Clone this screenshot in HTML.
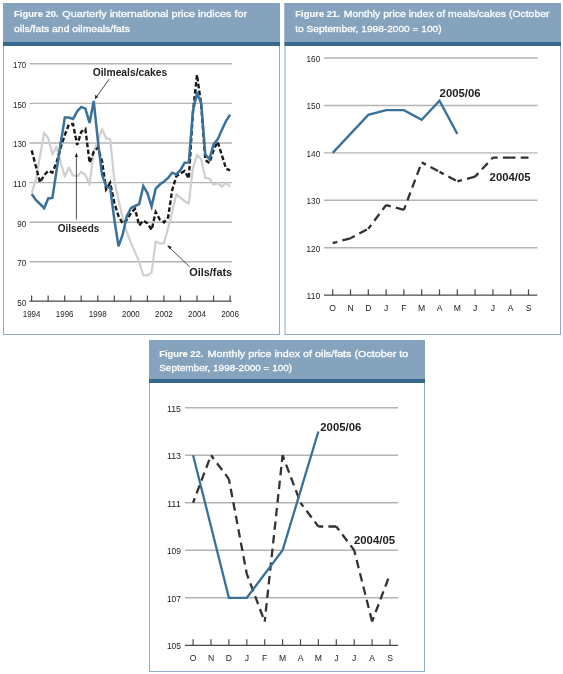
<!DOCTYPE html>
<html><head><meta charset="utf-8"><style>
html,body{margin:0;padding:0;background:#fff;}
body{width:563px;height:674px;overflow:hidden;}
svg{display:block;font-family:'Liberation Sans', sans-serif;will-change:transform;}
</style></head><body>
<svg width="563" height="674" viewBox="0 0 563 674">
<rect x="3.5" y="3.5" width="276" height="331" fill="none" stroke="#8eaacb" stroke-width="1"/>
<rect x="3" y="3" width="277" height="39" fill="#85a3bd"/>
<rect x="3" y="42" width="277" height="4" fill="#356a8c"/>
<text x="14.1" y="17.4" textLength="44.5" lengthAdjust="spacingAndGlyphs" font-size="9.6" font-weight="bold" fill="#fff" stroke="#fff" stroke-width="0.12">Figure 20.</text>
<text x="62.3" y="17.4" textLength="184.8" lengthAdjust="spacingAndGlyphs" font-size="9.3" font-weight="normal" fill="#fff" stroke="#fff" stroke-width="0.28">Quarterly international price indices for</text>
<text x="14.1" y="31.7" textLength="115.8" lengthAdjust="spacingAndGlyphs" font-size="9.3" font-weight="normal" fill="#fff" stroke="#fff" stroke-width="0.28">oils/fats and oilmeals/fats</text>
<line x1="29.5" y1="63.80" x2="232" y2="63.80" stroke="#b4b4b4" stroke-width="1.4"/>
<line x1="29.5" y1="103.40" x2="232" y2="103.40" stroke="#b4b4b4" stroke-width="1.4"/>
<line x1="29.5" y1="143.00" x2="232" y2="143.00" stroke="#b4b4b4" stroke-width="1.4"/>
<line x1="29.5" y1="182.60" x2="232" y2="182.60" stroke="#b4b4b4" stroke-width="1.4"/>
<line x1="29.5" y1="222.20" x2="232" y2="222.20" stroke="#b4b4b4" stroke-width="1.4"/>
<line x1="29.5" y1="261.80" x2="232" y2="261.80" stroke="#b4b4b4" stroke-width="1.4"/>
<line x1="29.5" y1="301.2" x2="231.5" y2="301.2" stroke="#4a4a4a" stroke-width="1.3"/>
<line x1="31.60" y1="295.5" x2="31.60" y2="301.5" stroke="#4a4a4a" stroke-width="1.2"/>
<line x1="48.14" y1="295.5" x2="48.14" y2="301.5" stroke="#4a4a4a" stroke-width="1.2"/>
<line x1="64.68" y1="295.5" x2="64.68" y2="301.5" stroke="#4a4a4a" stroke-width="1.2"/>
<line x1="81.22" y1="295.5" x2="81.22" y2="301.5" stroke="#4a4a4a" stroke-width="1.2"/>
<line x1="97.76" y1="295.5" x2="97.76" y2="301.5" stroke="#4a4a4a" stroke-width="1.2"/>
<line x1="114.30" y1="295.5" x2="114.30" y2="301.5" stroke="#4a4a4a" stroke-width="1.2"/>
<line x1="130.84" y1="295.5" x2="130.84" y2="301.5" stroke="#4a4a4a" stroke-width="1.2"/>
<line x1="147.38" y1="295.5" x2="147.38" y2="301.5" stroke="#4a4a4a" stroke-width="1.2"/>
<line x1="163.92" y1="295.5" x2="163.92" y2="301.5" stroke="#4a4a4a" stroke-width="1.2"/>
<line x1="180.46" y1="295.5" x2="180.46" y2="301.5" stroke="#4a4a4a" stroke-width="1.2"/>
<line x1="197.00" y1="295.5" x2="197.00" y2="301.5" stroke="#4a4a4a" stroke-width="1.2"/>
<line x1="213.54" y1="295.5" x2="213.54" y2="301.5" stroke="#4a4a4a" stroke-width="1.2"/>
<line x1="230.08" y1="295.5" x2="230.08" y2="301.5" stroke="#4a4a4a" stroke-width="1.2"/>
<text x="26.3" y="68.2" font-size="9.4" text-anchor="end" font-weight="normal" fill="#222222" textLength="13.3" lengthAdjust="spacingAndGlyphs">170</text>
<text x="26.3" y="107.80000000000001" font-size="9.4" text-anchor="end" font-weight="normal" fill="#222222" textLength="13.3" lengthAdjust="spacingAndGlyphs">150</text>
<text x="26.3" y="147.4" font-size="9.4" text-anchor="end" font-weight="normal" fill="#222222" textLength="13.3" lengthAdjust="spacingAndGlyphs">130</text>
<text x="26.3" y="187.0" font-size="9.4" text-anchor="end" font-weight="normal" fill="#222222" textLength="13.3" lengthAdjust="spacingAndGlyphs">110</text>
<text x="26.3" y="226.6" font-size="9.4" text-anchor="end" font-weight="normal" fill="#222222" textLength="9.0" lengthAdjust="spacingAndGlyphs">90</text>
<text x="26.3" y="266.2" font-size="9.4" text-anchor="end" font-weight="normal" fill="#222222" textLength="9.0" lengthAdjust="spacingAndGlyphs">70</text>
<text x="26.3" y="305.79999999999995" font-size="9.4" text-anchor="end" font-weight="normal" fill="#222222" textLength="9.0" lengthAdjust="spacingAndGlyphs">50</text>
<text x="31.6" y="316.6" font-size="8.9" text-anchor="middle" font-weight="normal" fill="#222222" textLength="17.8" lengthAdjust="spacingAndGlyphs">1994</text>
<text x="64.68" y="316.6" font-size="8.9" text-anchor="middle" font-weight="normal" fill="#222222" textLength="17.8" lengthAdjust="spacingAndGlyphs">1996</text>
<text x="97.75999999999999" y="316.6" font-size="8.9" text-anchor="middle" font-weight="normal" fill="#222222" textLength="17.8" lengthAdjust="spacingAndGlyphs">1998</text>
<text x="130.84" y="316.6" font-size="8.9" text-anchor="middle" font-weight="normal" fill="#222222" textLength="17.8" lengthAdjust="spacingAndGlyphs">2000</text>
<text x="163.92" y="316.6" font-size="8.9" text-anchor="middle" font-weight="normal" fill="#222222" textLength="17.8" lengthAdjust="spacingAndGlyphs">2002</text>
<text x="196.99999999999997" y="316.6" font-size="8.9" text-anchor="middle" font-weight="normal" fill="#222222" textLength="17.8" lengthAdjust="spacingAndGlyphs">2004</text>
<text x="230.07999999999998" y="316.6" font-size="8.9" text-anchor="middle" font-weight="normal" fill="#222222" textLength="17.8" lengthAdjust="spacingAndGlyphs">2006</text>
<polyline points="31.7,193.0 35.8,180.0 40.0,156.0 44.1,132.6 48.2,138.0 52.4,154.5 56.5,146.8 60.6,162.0 64.8,176.5 68.9,167.5 73.0,175.5 77.2,176.2 81.3,172.0 85.4,174.9 89.6,184.6 93.7,152.0 97.8,141.0 102.0,129.0 106.1,138.3 110.2,139.0 114.4,180.7 118.5,200.0 122.6,217.5 126.8,232.0 130.9,243.0 135.0,252.0 139.2,262.0 143.3,275.3 147.4,275.3 151.6,272.6 155.7,241.5 159.8,243.3 164.0,243.3 168.1,228.0 172.2,212.0 176.4,194.0 180.5,198.0 184.6,201.0 188.8,203.7 192.9,168.0 197.0,154.9 201.2,159.2 205.3,177.9 209.4,178.5 213.6,184.7 217.7,182.9 221.8,186.6 226.0,182.9 230.1,186.6" fill="none" stroke="#cfcfcf" stroke-width="2.2" stroke-linejoin="round" stroke-miterlimit="12"/>
<polyline points="31.7,150.4 35.8,166.0 40.0,182.4 44.1,175.3 48.2,170.8 52.4,172.6 56.5,162.8 60.6,148.0 64.8,135.0 68.9,124.5 73.0,124.0 77.2,145.0 81.3,131.7 85.4,129.0 89.6,162.8 93.7,152.0 97.8,147.7 102.0,161.0 106.1,189.4 110.2,182.7 114.4,203.0 118.5,216.0 122.6,223.5 126.8,220.0 130.9,213.0 135.0,208.8 139.2,225.5 143.3,220.6 147.4,223.3 151.6,229.9 155.7,212.0 159.8,219.5 164.0,222.4 168.1,217.4 172.2,190.0 176.4,176.1 180.5,173.5 184.6,171.0 188.8,178.5 192.9,113.1 197.0,74.8 201.2,105.0 205.3,159.9 209.4,163.0 213.6,150.0 217.7,141.8 221.8,155.0 226.0,168.6 230.1,170.4" fill="none" stroke="#1a1a1a" stroke-width="2.4" stroke-linejoin="miter" stroke-miterlimit="4" stroke-dasharray="4.6 2.4"/>
<polyline points="31.7,194.0 35.8,200.0 40.0,204.0 44.1,208.2 48.2,198.4 52.4,197.9 56.5,171.0 60.6,144.0 64.8,117.6 68.9,117.6 73.0,119.0 77.2,111.3 81.3,106.9 85.4,108.6 89.6,122.9 93.7,101.0 97.8,139.7 102.0,174.7 106.1,186.1 110.2,188.1 114.4,220.0 118.5,246.2 122.6,234.9 126.8,216.1 130.9,208.1 135.0,206.0 139.2,204.1 143.3,186.1 147.4,193.1 151.6,206.4 155.7,188.6 159.8,184.5 164.0,181.5 168.1,177.9 172.2,172.7 176.4,174.4 180.5,169.9 184.6,162.8 188.8,162.6 192.9,111.3 197.0,93.5 201.2,103.0 205.3,154.3 209.4,159.2 213.6,144.3 217.7,139.3 221.8,130.0 226.0,121.0 230.1,114.8" fill="none" stroke="#3a719a" stroke-width="2.5" stroke-linejoin="miter" stroke-miterlimit="4"/>
<text x="92.7" y="76.0" font-size="10" text-anchor="start" font-weight="bold" fill="#222222" textLength="74.6" lengthAdjust="spacingAndGlyphs">Oilmeals/cakes</text>
<line x1="109.3" y1="79" x2="96.5" y2="96.8" stroke="#222222" stroke-width="0.8"/>
<polygon points="94.9,99.3 95.2,94.8 98.2,96.9" fill="#222222"/>
<text x="57.7" y="232.4" font-size="10" text-anchor="start" font-weight="bold" fill="#222222" textLength="41.6" lengthAdjust="spacingAndGlyphs">Oilseeds</text>
<line x1="76.4" y1="156" x2="76.4" y2="219.5" stroke="#222222" stroke-width="0.8"/>
<polygon points="76.4,152.5 74.8,157 78,157" fill="#222222"/>
<text x="189.2" y="276.4" font-size="10" text-anchor="start" font-weight="bold" fill="#222222" textLength="43" lengthAdjust="spacingAndGlyphs">Oils/fats</text>
<line x1="169.5" y1="247.5" x2="189.6" y2="266.8" stroke="#222222" stroke-width="0.8"/>
<polygon points="167.2,245.3 171.8,246.8 169.6,249.2" fill="#222222"/>
<rect x="285.0" y="3.5" width="275.5" height="331" fill="none" stroke="#8eaacb" stroke-width="1"/>
<rect x="284.5" y="3" width="276.5" height="39" fill="#85a3bd"/>
<rect x="284.5" y="42" width="276.5" height="4" fill="#356a8c"/>
<text x="295.3" y="17.4" textLength="44.6" lengthAdjust="spacingAndGlyphs" font-size="9.6" font-weight="bold" fill="#fff" stroke="#fff" stroke-width="0.12">Figure 21.</text>
<text x="343.8" y="17.4" textLength="205.7" lengthAdjust="spacingAndGlyphs" font-size="9.3" font-weight="normal" fill="#fff" stroke="#fff" stroke-width="0.28">Monthly price index of meals/cakes (October</text>
<text x="295.3" y="31.7" textLength="146.3" lengthAdjust="spacingAndGlyphs" font-size="9.3" font-weight="normal" fill="#fff" stroke="#fff" stroke-width="0.28">to September, 1998-2000 = 100)</text>
<line x1="324" y1="58.00" x2="537.6" y2="58.00" stroke="#b4b4b4" stroke-width="1.4"/>
<line x1="324" y1="105.44" x2="537.6" y2="105.44" stroke="#b4b4b4" stroke-width="1.4"/>
<line x1="324" y1="152.88" x2="537.6" y2="152.88" stroke="#b4b4b4" stroke-width="1.4"/>
<line x1="324" y1="200.32" x2="537.6" y2="200.32" stroke="#b4b4b4" stroke-width="1.4"/>
<line x1="324" y1="247.76" x2="537.6" y2="247.76" stroke="#b4b4b4" stroke-width="1.4"/>
<line x1="324" y1="295.20" x2="537.3" y2="295.20" stroke="#4a4a4a" stroke-width="1.3"/>
<line x1="332.70" y1="289.3" x2="332.70" y2="295.50" stroke="#4a4a4a" stroke-width="1.2"/>
<line x1="350.50" y1="289.3" x2="350.50" y2="295.50" stroke="#4a4a4a" stroke-width="1.2"/>
<line x1="368.30" y1="289.3" x2="368.30" y2="295.50" stroke="#4a4a4a" stroke-width="1.2"/>
<line x1="386.10" y1="289.3" x2="386.10" y2="295.50" stroke="#4a4a4a" stroke-width="1.2"/>
<line x1="403.90" y1="289.3" x2="403.90" y2="295.50" stroke="#4a4a4a" stroke-width="1.2"/>
<line x1="421.70" y1="289.3" x2="421.70" y2="295.50" stroke="#4a4a4a" stroke-width="1.2"/>
<line x1="439.50" y1="289.3" x2="439.50" y2="295.50" stroke="#4a4a4a" stroke-width="1.2"/>
<line x1="457.30" y1="289.3" x2="457.30" y2="295.50" stroke="#4a4a4a" stroke-width="1.2"/>
<line x1="475.10" y1="289.3" x2="475.10" y2="295.50" stroke="#4a4a4a" stroke-width="1.2"/>
<line x1="492.90" y1="289.3" x2="492.90" y2="295.50" stroke="#4a4a4a" stroke-width="1.2"/>
<line x1="510.70" y1="289.3" x2="510.70" y2="295.50" stroke="#4a4a4a" stroke-width="1.2"/>
<line x1="528.50" y1="289.3" x2="528.50" y2="295.50" stroke="#4a4a4a" stroke-width="1.2"/>
<text x="320.2" y="61.9" font-size="9.4" text-anchor="end" font-weight="normal" fill="#222222" textLength="13.6" lengthAdjust="spacingAndGlyphs">160</text>
<text x="320.2" y="109.34" font-size="9.4" text-anchor="end" font-weight="normal" fill="#222222" textLength="13.6" lengthAdjust="spacingAndGlyphs">150</text>
<text x="320.2" y="156.78" font-size="9.4" text-anchor="end" font-weight="normal" fill="#222222" textLength="13.6" lengthAdjust="spacingAndGlyphs">140</text>
<text x="320.2" y="204.22" font-size="9.4" text-anchor="end" font-weight="normal" fill="#222222" textLength="13.6" lengthAdjust="spacingAndGlyphs">130</text>
<text x="320.2" y="251.66" font-size="9.4" text-anchor="end" font-weight="normal" fill="#222222" textLength="13.6" lengthAdjust="spacingAndGlyphs">120</text>
<text x="320.2" y="299.09999999999997" font-size="9.4" text-anchor="end" font-weight="normal" fill="#222222" textLength="13.6" lengthAdjust="spacingAndGlyphs">110</text>
<text x="332.7" y="311.1" font-size="8.6" text-anchor="middle" font-weight="normal" fill="#222222">O</text>
<text x="350.5" y="311.1" font-size="8.6" text-anchor="middle" font-weight="normal" fill="#222222">N</text>
<text x="368.3" y="311.1" font-size="8.6" text-anchor="middle" font-weight="normal" fill="#222222">D</text>
<text x="386.1" y="311.1" font-size="8.6" text-anchor="middle" font-weight="normal" fill="#222222">J</text>
<text x="403.9" y="311.1" font-size="8.6" text-anchor="middle" font-weight="normal" fill="#222222">F</text>
<text x="421.7" y="311.1" font-size="8.6" text-anchor="middle" font-weight="normal" fill="#222222">M</text>
<text x="439.5" y="311.1" font-size="8.6" text-anchor="middle" font-weight="normal" fill="#222222">A</text>
<text x="457.3" y="311.1" font-size="8.6" text-anchor="middle" font-weight="normal" fill="#222222">M</text>
<text x="475.1" y="311.1" font-size="8.6" text-anchor="middle" font-weight="normal" fill="#222222">J</text>
<text x="492.9" y="311.1" font-size="8.6" text-anchor="middle" font-weight="normal" fill="#222222">J</text>
<text x="510.7" y="311.1" font-size="8.6" text-anchor="middle" font-weight="normal" fill="#222222">A</text>
<text x="528.5" y="311.1" font-size="8.6" text-anchor="middle" font-weight="normal" fill="#222222">S</text>
<line x1="332.70" y1="243.02" x2="350.50" y2="238.27" stroke="#333333" stroke-width="2.3" stroke-dasharray="8.5 5.2" stroke-dashoffset="3.7"/>
<line x1="350.50" y1="238.27" x2="368.30" y2="228.78" stroke="#333333" stroke-width="2.3" stroke-dasharray="8.5 5.2" stroke-dashoffset="3.7"/>
<line x1="368.30" y1="228.78" x2="386.10" y2="205.06" stroke="#333333" stroke-width="2.3" stroke-dasharray="8.5 5.2" stroke-dashoffset="3.7"/>
<line x1="386.10" y1="205.06" x2="403.90" y2="209.81" stroke="#333333" stroke-width="2.3" stroke-dasharray="8.5 5.2" stroke-dashoffset="3.7"/>
<line x1="403.90" y1="209.81" x2="421.70" y2="162.37" stroke="#333333" stroke-width="2.3" stroke-dasharray="8.5 5.2" stroke-dashoffset="3.7"/>
<line x1="421.70" y1="162.37" x2="439.50" y2="171.86" stroke="#333333" stroke-width="2.3" stroke-dasharray="8.5 5.2" stroke-dashoffset="3.7"/>
<line x1="439.50" y1="171.86" x2="457.30" y2="181.34" stroke="#333333" stroke-width="2.3" stroke-dasharray="8.5 5.2" stroke-dashoffset="3.7"/>
<line x1="457.30" y1="181.34" x2="475.10" y2="176.60" stroke="#333333" stroke-width="2.3" stroke-dasharray="8.5 5.2" stroke-dashoffset="3.7"/>
<line x1="475.10" y1="176.60" x2="492.90" y2="157.62" stroke="#333333" stroke-width="2.3" stroke-dasharray="8.5 5.2" stroke-dashoffset="3.7"/>
<line x1="492.90" y1="157.62" x2="510.70" y2="157.62" stroke="#333333" stroke-width="2.3" stroke-dasharray="8.5 5.2" stroke-dashoffset="3.7"/>
<line x1="510.70" y1="157.62" x2="528.50" y2="157.62" stroke="#333333" stroke-width="2.3" stroke-dasharray="8.5 5.2" stroke-dashoffset="3.7"/>
<polyline points="332.7,152.9 350.5,133.9 368.3,114.9 386.1,110.2 403.9,110.2 421.7,119.7 439.5,100.7 457.3,133.9" fill="none" stroke="#3a719a" stroke-width="2.3" stroke-linejoin="miter" stroke-miterlimit="12"/>
<text x="439.6" y="96.8" font-size="11" text-anchor="start" font-weight="bold" fill="#222222" textLength="41" lengthAdjust="spacingAndGlyphs">2005/06</text>
<text x="489.6" y="181" font-size="11" text-anchor="start" font-weight="bold" fill="#222222" textLength="41" lengthAdjust="spacingAndGlyphs">2004/05</text>
<rect x="149.5" y="340.5" width="275" height="331" fill="none" stroke="#8eaacb" stroke-width="1"/>
<rect x="149" y="340" width="276" height="39" fill="#85a3bd"/>
<rect x="149" y="379" width="276" height="4" fill="#356a8c"/>
<text x="159.2" y="356.7" textLength="44.2" lengthAdjust="spacingAndGlyphs" font-size="9.6" font-weight="bold" fill="#fff" stroke="#fff" stroke-width="0.12">Figure 22.</text>
<text x="207.6" y="356.7" textLength="200.6" lengthAdjust="spacingAndGlyphs" font-size="9.3" font-weight="normal" fill="#fff" stroke="#fff" stroke-width="0.28">Monthly price index of oils/fats (October to</text>
<text x="159.2" y="370.6" textLength="133" lengthAdjust="spacingAndGlyphs" font-size="9.3" font-weight="normal" fill="#fff" stroke="#fff" stroke-width="0.28">September, 1998-2000 = 100)</text>
<line x1="185" y1="407.70" x2="398" y2="407.70" stroke="#b4b4b4" stroke-width="1.4"/>
<line x1="185" y1="455.22" x2="398" y2="455.22" stroke="#b4b4b4" stroke-width="1.4"/>
<line x1="185" y1="502.74" x2="398" y2="502.74" stroke="#b4b4b4" stroke-width="1.4"/>
<line x1="185" y1="550.26" x2="398" y2="550.26" stroke="#b4b4b4" stroke-width="1.4"/>
<line x1="185" y1="597.78" x2="398" y2="597.78" stroke="#b4b4b4" stroke-width="1.4"/>
<line x1="185" y1="645.30" x2="398" y2="645.30" stroke="#4a4a4a" stroke-width="1.3"/>
<line x1="193.10" y1="639.30" x2="193.10" y2="645.60" stroke="#4a4a4a" stroke-width="1.2"/>
<line x1="211.00" y1="639.30" x2="211.00" y2="645.60" stroke="#4a4a4a" stroke-width="1.2"/>
<line x1="228.90" y1="639.30" x2="228.90" y2="645.60" stroke="#4a4a4a" stroke-width="1.2"/>
<line x1="246.80" y1="639.30" x2="246.80" y2="645.60" stroke="#4a4a4a" stroke-width="1.2"/>
<line x1="264.70" y1="639.30" x2="264.70" y2="645.60" stroke="#4a4a4a" stroke-width="1.2"/>
<line x1="282.60" y1="639.30" x2="282.60" y2="645.60" stroke="#4a4a4a" stroke-width="1.2"/>
<line x1="300.50" y1="639.30" x2="300.50" y2="645.60" stroke="#4a4a4a" stroke-width="1.2"/>
<line x1="318.40" y1="639.30" x2="318.40" y2="645.60" stroke="#4a4a4a" stroke-width="1.2"/>
<line x1="336.30" y1="639.30" x2="336.30" y2="645.60" stroke="#4a4a4a" stroke-width="1.2"/>
<line x1="354.20" y1="639.30" x2="354.20" y2="645.60" stroke="#4a4a4a" stroke-width="1.2"/>
<line x1="372.10" y1="639.30" x2="372.10" y2="645.60" stroke="#4a4a4a" stroke-width="1.2"/>
<line x1="390.00" y1="639.30" x2="390.00" y2="645.60" stroke="#4a4a4a" stroke-width="1.2"/>
<text x="181" y="411.59999999999997" font-size="9.4" text-anchor="end" font-weight="normal" fill="#222222" textLength="14.1" lengthAdjust="spacingAndGlyphs">115</text>
<text x="181" y="459.11999999999995" font-size="9.4" text-anchor="end" font-weight="normal" fill="#222222" textLength="14.1" lengthAdjust="spacingAndGlyphs">113</text>
<text x="181" y="506.64" font-size="9.4" text-anchor="end" font-weight="normal" fill="#222222" textLength="14.1" lengthAdjust="spacingAndGlyphs">111</text>
<text x="181" y="554.16" font-size="9.4" text-anchor="end" font-weight="normal" fill="#222222" textLength="14.1" lengthAdjust="spacingAndGlyphs">109</text>
<text x="181" y="601.68" font-size="9.4" text-anchor="end" font-weight="normal" fill="#222222" textLength="14.1" lengthAdjust="spacingAndGlyphs">107</text>
<text x="181" y="649.1999999999999" font-size="9.4" text-anchor="end" font-weight="normal" fill="#222222" textLength="14.1" lengthAdjust="spacingAndGlyphs">105</text>
<text x="193.1" y="661.3" font-size="8.6" text-anchor="middle" font-weight="normal" fill="#222222">O</text>
<text x="211.0" y="661.3" font-size="8.6" text-anchor="middle" font-weight="normal" fill="#222222">N</text>
<text x="228.89999999999998" y="661.3" font-size="8.6" text-anchor="middle" font-weight="normal" fill="#222222">D</text>
<text x="246.79999999999998" y="661.3" font-size="8.6" text-anchor="middle" font-weight="normal" fill="#222222">J</text>
<text x="264.7" y="661.3" font-size="8.6" text-anchor="middle" font-weight="normal" fill="#222222">F</text>
<text x="282.6" y="661.3" font-size="8.6" text-anchor="middle" font-weight="normal" fill="#222222">M</text>
<text x="300.5" y="661.3" font-size="8.6" text-anchor="middle" font-weight="normal" fill="#222222">A</text>
<text x="318.4" y="661.3" font-size="8.6" text-anchor="middle" font-weight="normal" fill="#222222">M</text>
<text x="336.29999999999995" y="661.3" font-size="8.6" text-anchor="middle" font-weight="normal" fill="#222222">J</text>
<text x="354.2" y="661.3" font-size="8.6" text-anchor="middle" font-weight="normal" fill="#222222">J</text>
<text x="372.1" y="661.3" font-size="8.6" text-anchor="middle" font-weight="normal" fill="#222222">A</text>
<text x="390.0" y="661.3" font-size="8.6" text-anchor="middle" font-weight="normal" fill="#222222">S</text>
<line x1="193.10" y1="502.74" x2="211.00" y2="455.22" stroke="#333333" stroke-width="2.3" stroke-dasharray="8.5 5.2" stroke-dashoffset="3.7"/>
<line x1="211.00" y1="455.22" x2="228.90" y2="478.98" stroke="#333333" stroke-width="2.3" stroke-dasharray="8.5 5.2" stroke-dashoffset="3.7"/>
<line x1="228.90" y1="478.98" x2="246.80" y2="574.02" stroke="#333333" stroke-width="2.3" stroke-dasharray="8.5 5.2" stroke-dashoffset="3.7"/>
<line x1="246.80" y1="574.02" x2="264.70" y2="621.54" stroke="#333333" stroke-width="2.3" stroke-dasharray="8.5 5.2" stroke-dashoffset="3.7"/>
<line x1="264.70" y1="621.54" x2="282.60" y2="455.22" stroke="#333333" stroke-width="2.3" stroke-dasharray="8.5 5.2" stroke-dashoffset="3.7"/>
<line x1="282.60" y1="455.22" x2="300.50" y2="502.74" stroke="#333333" stroke-width="2.3" stroke-dasharray="8.5 5.2" stroke-dashoffset="3.7"/>
<line x1="300.50" y1="502.74" x2="318.40" y2="526.50" stroke="#333333" stroke-width="2.3" stroke-dasharray="8.5 5.2" stroke-dashoffset="3.7"/>
<line x1="318.40" y1="526.50" x2="336.30" y2="526.50" stroke="#333333" stroke-width="2.3" stroke-dasharray="8.5 5.2" stroke-dashoffset="3.7"/>
<line x1="336.30" y1="526.50" x2="354.20" y2="550.26" stroke="#333333" stroke-width="2.3" stroke-dasharray="8.5 5.2" stroke-dashoffset="3.7"/>
<line x1="354.20" y1="550.26" x2="372.10" y2="621.54" stroke="#333333" stroke-width="2.3" stroke-dasharray="8.5 5.2" stroke-dashoffset="3.7"/>
<line x1="372.10" y1="621.54" x2="390.00" y2="574.02" stroke="#333333" stroke-width="2.3" stroke-dasharray="8.5 5.2" stroke-dashoffset="3.7"/>
<polyline points="193.1,455.2 211.0,526.5 228.9,597.8 246.8,597.8 264.7,574.0 282.6,550.3 300.5,490.9 318.4,431.5" fill="none" stroke="#3a719a" stroke-width="2.3" stroke-linejoin="miter" stroke-miterlimit="12"/>
<text x="320.3" y="430.5" font-size="11" text-anchor="start" font-weight="bold" fill="#222222" textLength="41" lengthAdjust="spacingAndGlyphs">2005/06</text>
<text x="354" y="543.8" font-size="11" text-anchor="start" font-weight="bold" fill="#222222" textLength="41" lengthAdjust="spacingAndGlyphs">2004/05</text>
</svg>
</body></html>
